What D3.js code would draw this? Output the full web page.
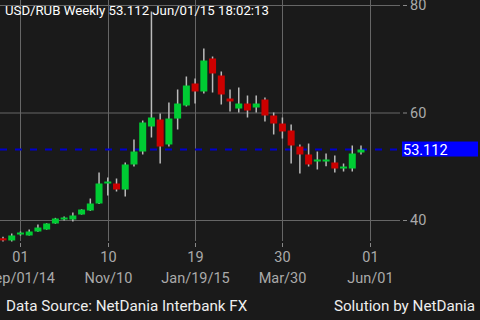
<!DOCTYPE html>
<html>
<head>
<meta charset="utf-8">
<script src="https://cdn.jsdelivr.net/npm/d3@7"></script>
<style>
  html, body { margin: 0; padding: 0; background: #1a1a1a; }
  svg { display: block; font-family: Roboto, "Noto Sans", sans-serif; }
</style>
</head>
<body>
<svg id="chart" width="480" height="320"></svg>
<script>
var opens, highs, lows, closes, lastPrice, yTicks, tickWeeks, tickDays, tickMonths;
var svg, x, y, W, H, plotRight, plotBottom, candles, c;

// weekly candles, Aug/18/14 .. Jun/01/15
opens  = [36.6, 36.19, 37.3, 37.12, 37.86, 38.23, 39.35, 40.09, 40.09, 41.02, 41.77, 43.07, 46.79, 46.79, 45.67, 50.33, 52.74, 57.4, 58.7, 54.05, 58.88, 61.3, 65.4, 63.91, 70.05, 66.88, 62.6, 60.74, 61.67, 60.93, 62.42, 59.44, 57.95, 56.65, 53.67, 52.19, 50.88, 50.88, 50.7, 49.58, 49.58, 52.56];
highs  = [36.9, 37.49, 37.86, 38.23, 39.16, 39.4, 40.4, 40.65, 41.4, 42.0, 44.0, 48.84, 47.91, 47.72, 50.7, 54.98, 58.51, 78.79, 59.81, 61.86, 64.28, 66.7, 66.33, 71.91, 70.42, 67.63, 64.28, 64.65, 63.16, 63.16, 62.79, 60.0, 59.07, 57.77, 54.05, 54.23, 52.74, 52.37, 52.0, 50.51, 53.86, 53.86];
lows   = [36.0, 36.0, 37.1, 37.1, 37.8, 38.2, 39.3, 39.91, 39.72, 41.0, 41.7, 43.0, 44.56, 45.3, 44.37, 49.95, 52.19, 55.35, 50.51, 53.67, 56.84, 61.12, 61.67, 63.53, 63.72, 61.49, 60.19, 60.0, 59.07, 60.0, 58.33, 55.91, 55.16, 50.51, 48.65, 49.95, 49.4, 50.0, 48.84, 49.02, 49.02, 52.2];
closes = [36.2, 37.12, 37.67, 37.86, 38.6, 39.35, 40.28, 40.47, 40.84, 41.95, 43.07, 46.79, 47.16, 45.67, 50.33, 52.74, 58.14, 59.07, 53.67, 58.88, 61.67, 65.02, 63.91, 69.67, 67.26, 63.35, 62.05, 61.67, 60.37, 61.67, 59.44, 57.95, 56.47, 53.86, 52.19, 50.33, 51.26, 51.26, 49.58, 49.95, 52.37, 53.112];
lastPrice = 53.112;

yTicks = [40, 60, 80];
tickWeeks = [2, 12, 22, 32, 42];
tickDays = ["01", "10", "19", "30", "01"];
tickMonths = ["Sep/01/14", "Nov/10", "Jan/19/15", "Mar/30", "Jun/01"];

W = 480;
H = 320;
plotRight = 400;
plotBottom = 241;

svg = d3.select("#chart");
svg.append("rect").attr("width", W).attr("height", H).attr("fill", "#1a1a1a");

x = d3.scaleLinear().domain([0, closes.length - 1]).range([3, 361]);
y = d3.scaleLinear().domain([40, 80]).range([220, 5]);

// horizontal grid + right labels
yTicks.forEach(function(t) {
  svg.append("line").attr("x1", 0).attr("x2", plotRight).attr("y1", y(t) + 0.5).attr("y2", y(t) + 0.5)
    .attr("stroke", "#666").attr("stroke-width", 1);
  svg.append("line").attr("x1", plotRight + 3).attr("x2", plotRight + 7).attr("y1", y(t) + 0.5).attr("y2", y(t) + 0.5)
    .attr("stroke", "#888").attr("stroke-width", 1);
  svg.append("text").text(t).attr("x", 410).attr("y", y(t) + 5)
    .attr("fill", "#aaa").attr("font-size", 14.5);
});

// vertical grid + bottom labels
tickWeeks.forEach(function(w, i) {
  var px = Math.round(x(w)) + 0.5;
  svg.append("line").attr("x1", px).attr("x2", px).attr("y1", 0).attr("y2", plotBottom)
    .attr("stroke", "#666").attr("stroke-width", 1);
  svg.append("line").attr("x1", px).attr("x2", px).attr("y1", plotBottom + 2).attr("y2", plotBottom + 6)
    .attr("stroke", "#888").attr("stroke-width", 1);
  svg.append("text").text(tickDays[i]).attr("x", px).attr("y", 262)
    .attr("text-anchor", "middle").attr("fill", "#aaa").attr("font-size", 14.5);
  svg.append("text").text(tickMonths[i]).attr("x", px).attr("y", 283)
    .attr("text-anchor", "middle").attr("fill", "#aaa").attr("font-size", 14.5);
});

// last price line
svg.append("line").attr("x1", 0).attr("x2", plotRight).attr("y1", y(lastPrice)).attr("y2", y(lastPrice))
  .attr("stroke", "#0000cc").attr("stroke-width", 2).attr("stroke-dasharray", "7,8");

candles = d3.range(closes.length);
c = svg.append("g").attr("id", "candles").selectAll("g").data(candles).enter().append("g");
c.append("line").attr("x1", function(d) {
  return x(d);
}).attr("x2", function(d) {
  return x(d);
}).attr("y1", function(d) {
  return y(highs[d]);
}).attr("y2", function(d) {
  return y(lows[d]);
}).attr("stroke", "#bbb").attr("stroke-width", 1.5);
c.append("rect").attr("x", function(d) {
  return x(d) - 3.5;
}).attr("width", 7).attr("y", function(d) {
  return y(Math.max(opens[d], closes[d]));
}).attr("height", function(d) {
  return Math.max(2, Math.abs(y(opens[d]) - y(closes[d])));
}).attr("fill", function(d) {
  return closes[d] >= opens[d] ? "#00cc33" : "#cc0000";
});

// last price badge
svg.append("rect").attr("x", 402).attr("y", y(lastPrice) - 8).attr("width", 76).attr("height", 15).attr("fill", "#0000ff");
svg.append("text").text(lastPrice.toFixed(3)).attr("x", 403).attr("y", y(lastPrice) + 5)
  .attr("fill", "#fff").attr("font-size", 14.5);

// title and footer
svg.append("text").text("USD/RUB Weekly " + lastPrice + " Jun/01/15 18:02:13").attr("x", 5).attr("y", 15)
  .attr("fill", "#fff").attr("font-size", 13.2);
svg.append("text").text("Data Source: NetDania Interbank FX").attr("x", 6).attr("y", 311)
  .attr("fill", "#eee").attr("font-size", 15.2);
svg.append("text").text("Solution by NetDania").attr("x", 475).attr("y", 311).attr("text-anchor", "end")
  .attr("fill", "#eee").attr("font-size", 15.2);
</script>
</body>
</html>
